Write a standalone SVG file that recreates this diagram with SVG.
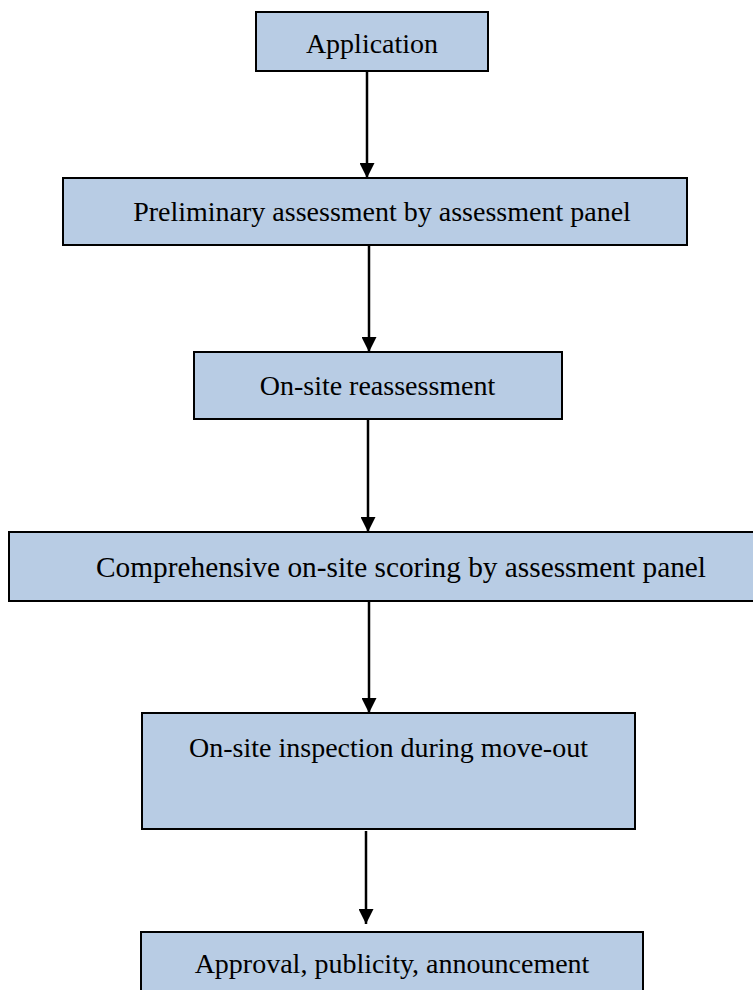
<svg xmlns="http://www.w3.org/2000/svg" width="753" height="990" viewBox="0 0 753 990">
<defs>
<style>
.box{fill:#b8cce4;stroke:#000;stroke-width:2}
.lbl{font-family:"Liberation Serif","Times New Roman",serif;font-size:28px;fill:#000;text-anchor:middle}
.conn{stroke:#000;stroke-width:2.5;fill:none;marker-end:url(#ah)}
</style>
<marker id="ah" viewBox="0 0 15 15" refX="15" refY="7.5" markerWidth="15" markerHeight="15" markerUnits="userSpaceOnUse" orient="auto">
<path d="M0,0 L15,7.5 L0,15 Z" fill="#000"/>
</marker>
</defs>
<rect width="753" height="990" fill="#fff"/>
<g id="connectors">
<line class="conn" x1="367" y1="71" x2="367" y2="178"/>
<line class="conn" x1="369" y1="245" x2="369" y2="352"/>
<line class="conn" x1="368" y1="419" x2="368" y2="532"/>
<line class="conn" x1="369" y1="601" x2="369" y2="713"/>
<line class="conn" x1="366" y1="831" x2="366" y2="924"/>
</g>
<g id="n1"><rect class="box" x="256" y="12" width="232" height="59"/><text class="lbl" x="372" y="53">Application</text></g>
<g id="n2"><rect class="box" x="63" y="178" width="624" height="67"/><text class="lbl" x="382" y="221">Preliminary assessment by assessment panel</text></g>
<g id="n3"><rect class="box" x="194" y="352" width="368" height="67"/><text class="lbl" x="377.5" y="395">On-site reassessment</text></g>
<g id="n4"><rect class="box" x="9" y="532" width="760" height="69"/><text class="lbl" x="401" y="577" style="font-size:30px" textLength="610" lengthAdjust="spacingAndGlyphs">Comprehensive on-site scoring by assessment panel</text></g>
<g id="n5"><rect class="box" x="142" y="713" width="493" height="116"/><text class="lbl" x="388.5" y="757">On-site inspection during move-out</text></g>
<g id="n6"><rect class="box" x="141" y="932" width="502" height="80"/><text class="lbl" x="392" y="973">Approval, publicity, announcement</text></g>
</svg>
